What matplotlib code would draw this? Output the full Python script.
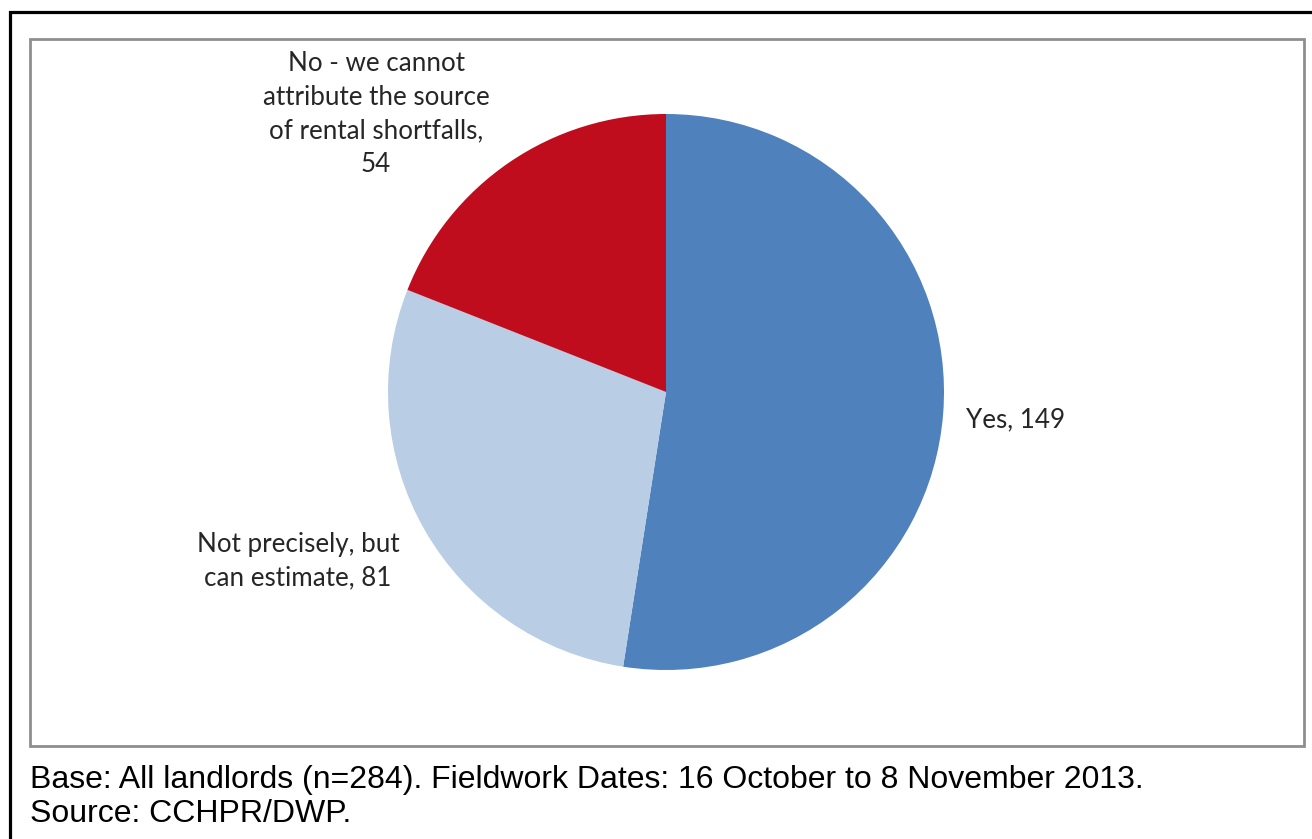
import matplotlib
matplotlib.use("Agg")
import matplotlib.pyplot as plt
from matplotlib.patches import Rectangle

categories = ["Yes", "Not precisely, but\ncan estimate", "No - we cannot\nattribute the source\nof rental shortfalls,\n"]
values = [149, 81, 54]
colors = ["#4F81BD", "#B9CDE5", "#C00D1E"]
footer = ["Base: All landlords (n=284). Fieldwork Dates: 16 October to 8 November 2013.",
          "Source: CCHPR/DWP."]

W, H = 1312, 839
fig = plt.figure(figsize=(W / 100, H / 100), dpi=100)
fig.patch.set_facecolor("white")

# outer black frame
fig.patches.append(Rectangle((9.5 / W, -0.1), 1.2, (H - 12) / H + 0.1, transform=fig.transFigure,
                             fill=False, edgecolor="black", linewidth=2.3, zorder=0))
# grey chart frame
fig.patches.append(Rectangle((30 / W, (H - 746) / H), (1304 - 30) / W, (746 - 39) / H,
                             transform=fig.transFigure, fill=False, edgecolor="#8E8E8E",
                             linewidth=2.0, zorder=0))

cx, cy, r = 666, 392, 278
ax = fig.add_axes([(cx - r) / W, (H - cy - r) / H, 2 * r / W, 2 * r / H])
wedges, _ = ax.pie(values, colors=colors, startangle=90, counterclock=False, radius=1,
                   wedgeprops=dict(linewidth=0))
ax.set_xlim(-1, 1)
ax.set_ylim(-1, 1)
ax.set_aspect("equal")
ax.axis("off")

font = dict(family=["Lato", "DejaVu Sans"], fontsize=18.7, color="#262626")
label_texts = [f"{categories[0]}, {values[0]}",
               f"{categories[1]}, {values[1]}",
               f"{categories[2]}{values[2]}"]
ax.text(1.079, -0.10, label_texts[0], ha="left", va="center", linespacing=1.42, **font)
ax.text(-1.324, -0.61, label_texts[1], ha="center", va="center", linespacing=1.42, **font)
ax.text(-1.043, 1.0, label_texts[2], ha="center", va="center", linespacing=1.42, **font)

for i, line in enumerate(footer):
    fig.text(30 / W, 1 - (780 + i * 34) / H, line, ha="left", va="center",
             family=["Liberation Sans", "DejaVu Sans"], fontsize=23, color="black")

fig.savefig("out.png", dpi=100)
